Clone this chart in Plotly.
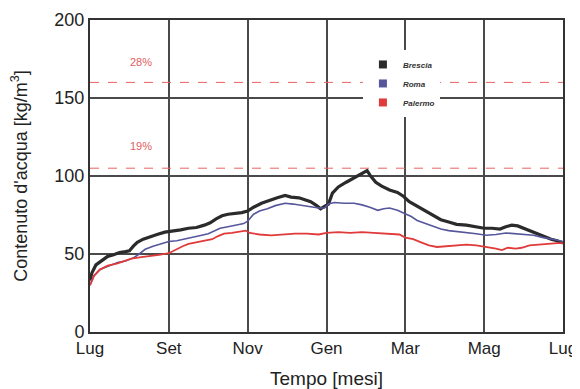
import plotly.graph_objects as go

# months from start (0 = Lug, 12 = Lug next year)
brescia_x = [0.0, 0.05, 0.15, 0.3, 0.45, 0.6, 0.75, 0.9, 1.0, 1.1, 1.2, 1.35, 1.5, 1.7, 1.9, 2.1, 2.3, 2.5,
             2.7, 2.9, 3.05, 3.2, 3.35, 3.5, 3.7, 3.85, 4.0, 4.15, 4.35, 4.55, 4.75, 4.95, 5.1, 5.3, 5.45,
             5.6, 5.75, 5.85, 5.95, 6.05, 6.15, 6.3, 6.5, 6.7, 6.9, 7.03, 7.12, 7.25, 7.4, 7.6, 7.8, 7.95,
             8.1, 8.3, 8.5, 8.7, 8.9, 9.1, 9.3, 9.55, 9.8, 10.0, 10.2, 10.4, 10.55, 10.7, 10.85, 11.0,
             11.15, 11.3, 11.5, 11.7, 11.85, 12.0]
brescia_y = [33, 38, 43, 46, 48.5, 49.5, 51, 51.5, 52, 55, 57.5, 59.5, 61, 62.5, 64, 64.5, 65.5, 66.5,
             67, 68.5, 70, 72.5, 74.5, 75.5, 76, 76.5, 77.5, 80, 82.5, 84.5, 86, 87.5, 86.5, 86, 85,
             83.5, 81, 79, 80.5, 82, 89, 93, 96, 99, 101.5, 103.5, 100, 96, 93.5, 91, 89.5, 87,
             83.5, 80.5, 77.5, 74.5, 72, 70.5, 69, 68.5, 67.5, 66.5, 66.5, 66, 67.5, 68.5, 68, 66.5,
             64.5, 63, 61, 59.5, 58.5, 57]

roma_x = [0.0, 0.1, 0.25, 0.45, 0.7, 0.9, 1.1, 1.25, 1.4, 1.6, 1.8, 2.0, 2.2, 2.5, 2.75, 3.0, 3.15, 3.3,
          3.5, 3.7, 3.9, 4.0, 4.15, 4.3, 4.5, 4.7, 4.95, 5.15, 5.4, 5.6, 5.8, 5.95, 6.05, 6.2, 6.45,
          6.7, 6.9, 7.1, 7.3, 7.45, 7.6, 7.8, 8.0, 8.15, 8.3, 8.5, 8.7, 8.9, 9.1, 9.3, 9.55, 9.8,
          10.05, 10.3, 10.55, 10.75, 11.0, 11.25, 11.5, 11.75, 12.0]
roma_y = [30, 36, 40, 42, 44.5, 45.5, 47.5, 50, 53, 55, 56.5, 58, 58.5, 60, 61.5, 63, 65, 66.5,
          67.5, 68.5, 69.5, 71, 75.5, 77.5, 79, 81, 82.5, 82, 81, 80, 79.5, 79.5, 82, 83, 82.5,
          82.5, 81.5, 80, 78, 79, 79.5, 78, 76, 74, 71.5, 69.5, 67.5, 66, 65, 64.5, 63.5, 63,
          62, 62.5, 63.5, 63, 62.5, 62, 60.5, 59.5, 58]

palermo_x = [0.0, 0.1, 0.25, 0.45, 0.7, 0.9, 1.05, 1.3, 1.5, 1.75, 2.0, 2.15, 2.35, 2.5, 2.7, 2.9, 3.1,
             3.25, 3.4, 3.6, 3.8, 3.95, 4.05, 4.3, 4.6, 4.9, 5.2, 5.5, 5.8, 6.0, 6.3, 6.6, 6.9, 7.2,
             7.5, 7.7, 7.85, 8.0, 8.2, 8.4, 8.6, 8.8, 9.0, 9.3, 9.55, 9.8, 10.1, 10.3, 10.45, 10.6,
             10.8, 10.95, 11.15, 11.35, 11.6, 11.85, 12.0]
palermo_y = [30, 36, 40, 42.5, 44, 45.5, 47, 48, 48.5, 49.5, 50.5, 52.5, 55, 56.5, 57.5, 58.5, 59.5,
             61.5, 63, 63.5, 64.5, 65, 63.5, 62.5, 62, 62.5, 63, 63, 62.5, 63.5, 64, 63.5, 64, 63.5,
             63, 62.5, 62.5, 60.5, 59.5, 57.5, 55.5, 54.5, 55, 55.5, 56, 55.5, 54.5, 53.5, 52.5, 54,
             53.5, 54, 55.5, 56, 56.5, 57, 57]

tick_vals = [0, 2, 4, 6, 8, 10, 12]
tick_text = ["Lug", "Set", "Nov", "Gen", "Mar", "Mag", "Lug"]

thresholds = [160, 105]
threshold_labels = ["28%", "19%"]
label_y = [173, 119]

series = [
    ("Brescia", brescia_x, brescia_y, "#2b2b2b", 3.2),
    ("Roma", roma_x, roma_y, "#56569c", 1.6),
    ("Palermo", palermo_x, palermo_y, "#e03a3a", 1.8),
]

fig = go.Figure()
for name, xs, ys, col, w in series:
    fig.add_trace(go.Scatter(x=xs, y=ys, mode="lines", line=dict(color=col, width=w),
                             showlegend=False, name=name))
for name, xs, ys, col, w in series:
    fig.add_trace(go.Scatter(x=[None], y=[None], mode="markers", name=name,
                             marker=dict(symbol="square", size=8, color=col)))

for t in thresholds:
    fig.add_hline(y=t, line=dict(color="#e86262", width=1, dash="dash"))
for lab, ly in zip(threshold_labels, label_y):
    fig.add_annotation(x=1.3, y=ly, text=lab, showarrow=False,
                       font=dict(color="#e06060", size=11, family="Liberation Sans, Arial"))

# the page body adds an 8px margin, so the figure is sized to fit the 580x389 window
fig.update_layout(
    width=572, height=381,
    margin=dict(l=82, r=17, t=12, b=57),
    paper_bgcolor="white", plot_bgcolor="white",
    font=dict(family="Liberation Sans, Arial, sans-serif", color="#222"),
    legend=dict(x=0.577, y=0.904, xanchor="left", yanchor="top", bgcolor="white",
                font=dict(size=8, style="italic", weight="bold", color="#333"),
                itemwidth=30, tracegroupgap=0),
    xaxis=dict(range=[0, 12], tickvals=tick_vals, ticktext=tick_text, automargin=False,
               showgrid=True, gridcolor="#4a4a4a", gridwidth=1.5,
               showline=True, linecolor="#333", linewidth=2, mirror=True,
               zeroline=False, tickfont=dict(size=17),
               title=dict(text="Tempo [mesi]", font=dict(size=19), standoff=21)),
    yaxis=dict(range=[0, 200], tickvals=[0, 50, 100, 150, 200], automargin=False,
               showgrid=True, gridcolor="#4a4a4a", gridwidth=1.5,
               showline=True, linecolor="#333", linewidth=2, mirror=True,
               zeroline=False, tickfont=dict(size=18),
               title=dict(text="Contenuto d'acqua [kg/m<sup>3</sup>]", font=dict(size=18), standoff=26)),
)

fig.write_html("out.html")
